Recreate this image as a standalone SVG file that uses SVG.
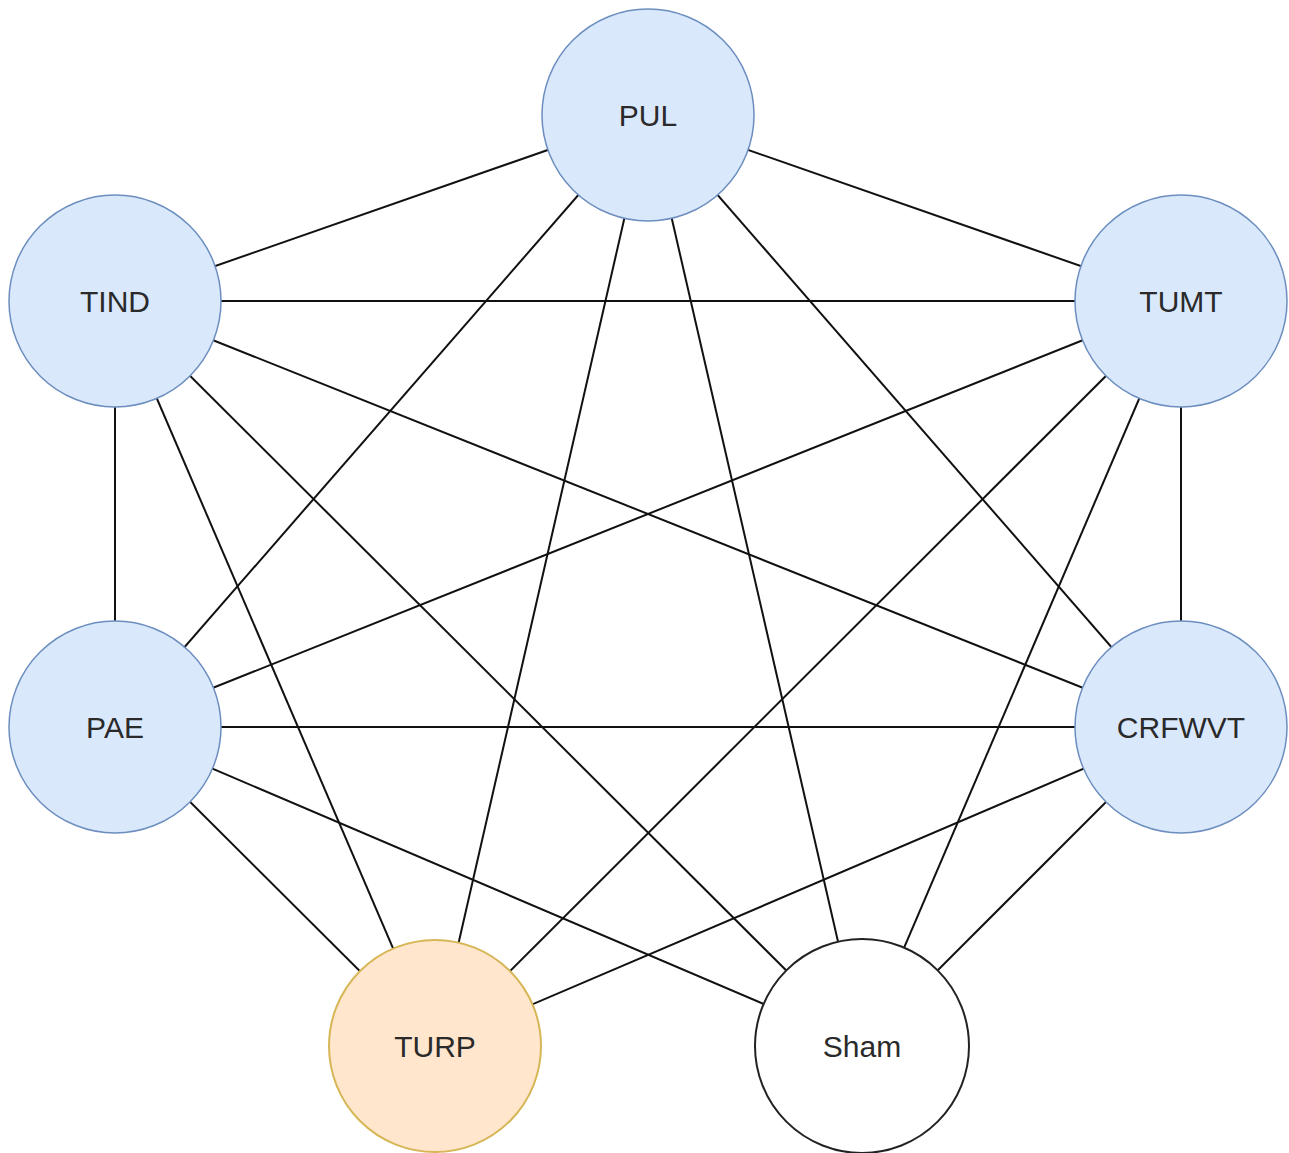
<svg xmlns="http://www.w3.org/2000/svg" width="1289" height="1153" viewBox="0 0 1289 1153">
<style>
.e{stroke:#111;stroke-width:2;fill:none}
.blue{fill:#dae8fc;stroke:#6c8ebf;stroke-width:1.5}
.orange{fill:#ffe6cc;stroke:#d6b656;stroke-width:2}
.white{fill:#fff;stroke:#222;stroke-width:2}
.t{font-family:"Liberation Sans",Arial,sans-serif;font-size:30px;fill:#2a2a2a;text-anchor:middle}
</style>
<rect width="1289" height="1153" fill="#fff"/>
<g id="edges">
<line class="e" x1="648" y1="115" x2="115" y2="301"/>
<line class="e" x1="648" y1="115" x2="1181" y2="301"/>
<line class="e" x1="648" y1="115" x2="115" y2="727"/>
<line class="e" x1="648" y1="115" x2="1181" y2="727"/>
<line class="e" x1="648" y1="115" x2="435" y2="1046"/>
<line class="e" x1="648" y1="115" x2="862" y2="1046"/>
<line class="e" x1="115" y1="301" x2="1181" y2="301"/>
<line class="e" x1="115" y1="301" x2="115" y2="727"/>
<line class="e" x1="115" y1="301" x2="1181" y2="727"/>
<line class="e" x1="115" y1="301" x2="435" y2="1046"/>
<line class="e" x1="115" y1="301" x2="862" y2="1046"/>
<line class="e" x1="1181" y1="301" x2="115" y2="727"/>
<line class="e" x1="1181" y1="301" x2="1181" y2="727"/>
<line class="e" x1="1181" y1="301" x2="435" y2="1046"/>
<line class="e" x1="1181" y1="301" x2="862" y2="1046"/>
<line class="e" x1="115" y1="727" x2="1181" y2="727"/>
<line class="e" x1="115" y1="727" x2="435" y2="1046"/>
<line class="e" x1="115" y1="727" x2="862" y2="1046"/>
<line class="e" x1="1181" y1="727" x2="435" y2="1046"/>
<line class="e" x1="1181" y1="727" x2="862" y2="1046"/>
</g>
<g id="PUL"><circle class="blue" cx="648" cy="115" r="106"/><text class="t" x="648" y="126">PUL</text></g>
<g id="TIND"><circle class="blue" cx="115" cy="301" r="106"/><text class="t" x="115" y="312">TIND</text></g>
<g id="TUMT"><circle class="blue" cx="1181" cy="301" r="106"/><text class="t" x="1181" y="312">TUMT</text></g>
<g id="PAE"><circle class="blue" cx="115" cy="727" r="106"/><text class="t" x="115" y="738">PAE</text></g>
<g id="CRFWVT"><circle class="blue" cx="1181" cy="727" r="106"/><text class="t" x="1181" y="738">CRFWVT</text></g>
<g id="TURP"><circle class="orange" cx="435" cy="1046" r="106"/><text class="t" x="435" y="1057">TURP</text></g>
<g id="Sham"><circle class="white" cx="862" cy="1046" r="107"/><text class="t" x="862" y="1057">Sham</text></g>
</svg>
